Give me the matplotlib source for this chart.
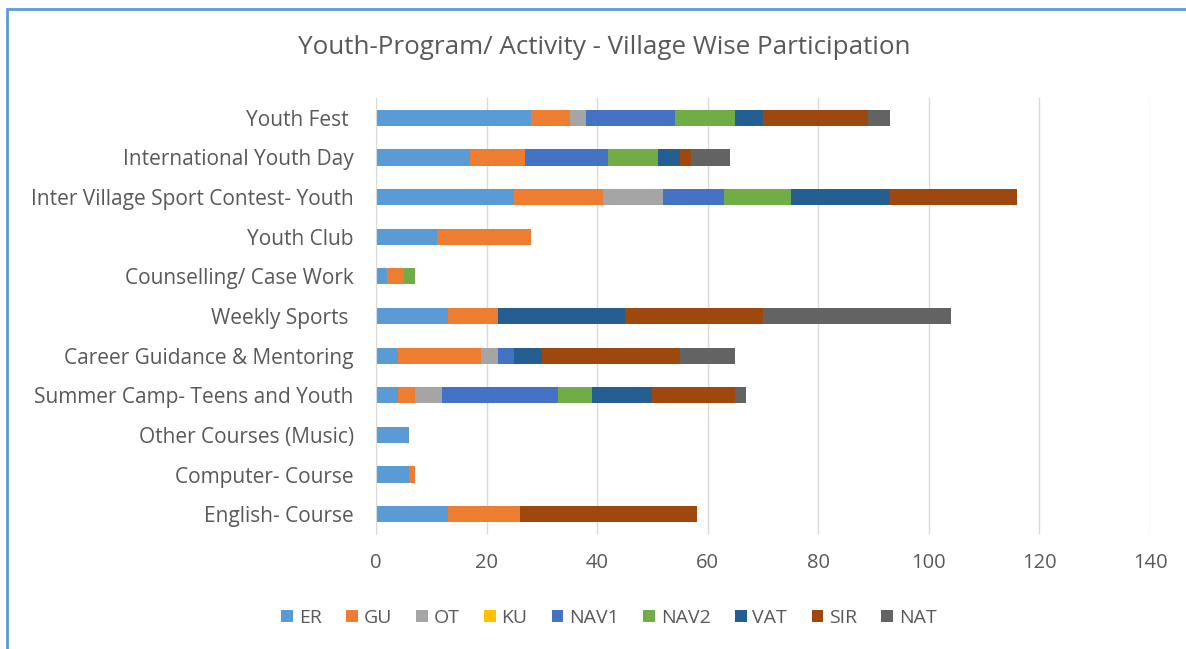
import matplotlib
matplotlib.use("Agg")
import matplotlib.pyplot as plt
from matplotlib.patches import Rectangle
import numpy as np

categories = ["Youth Fest ", "International Youth Day", "Inter Village Sport Contest- Youth",
              "Youth Club", "Counselling/ Case Work", "Weekly Sports ",
              "Career Guidance & Mentoring", "Summer Camp- Teens and Youth",
              "Other Courses (Music)", "Computer- Course", "English- Course"]

series_names = ["ER", "GU", "OT", "KU", "NAV1", "NAV2", "VAT", "SIR", "NAT"]
ER   = [28, 17, 25, 11, 2, 13, 4, 4, 6, 6, 13]
GU   = [7, 10, 16, 17, 3, 9, 15, 3, 0, 1, 13]
OT   = [3, 0, 11, 0, 0, 0, 3, 5, 0, 0, 0]
KU   = [0, 0, 0, 0, 0, 0, 0, 0, 0, 0, 0]
NAV1 = [16, 15, 11, 0, 0, 0, 3, 21, 0, 0, 0]
NAV2 = [11, 9, 12, 0, 2, 0, 0, 6, 0, 0, 0]
VAT  = [5, 4, 18, 0, 0, 23, 5, 11, 0, 0, 0]
SIR  = [19, 2, 23, 0, 0, 25, 25, 15, 0, 0, 32]
NAT  = [4, 7, 0, 0, 0, 34, 10, 2, 0, 0, 0]
series_values = [ER, GU, OT, KU, NAV1, NAV2, VAT, SIR, NAT]
colors = ["#5B9BD5", "#ED7D31", "#A5A5A5", "#FFC000", "#4472C4",
          "#70AD47", "#255E91", "#9E480E", "#636363"]
xticks = [0, 20, 40, 60, 80, 100, 120, 140]

txt = "#595959"
plt.rcParams['font.family'] = ['Open Sans', 'DejaVu Sans']

fig = plt.figure(figsize=(11.86, 6.49), dpi=100)
fig.patch.set_facecolor("white")
ax = fig.add_axes([376/1186, 1-534/649, (1150-376)/1186, (534-98)/649])

y = np.arange(len(categories))[::-1]
left = np.zeros(len(categories))
for name, vals, c in zip(series_names, series_values, colors):
    vals = np.array(vals, dtype=float)
    ax.barh(y, vals, left=left, height=0.41, color=c, label=name, zorder=3)
    left += vals

ax.set_xlim(0, 140)
ax.set_ylim(-0.5, len(categories) - 0.5)
ax.set_xticks(xticks)
ax.set_xticklabels([str(t) for t in xticks])
ax.set_yticks(y)
ax.set_yticklabels(categories)
ax.tick_params(axis='x', length=0, pad=14, labelsize=14.5, labelcolor=txt)
ax.tick_params(axis='y', length=0, pad=16, labelsize=15, labelcolor=txt)
ax.grid(axis='x', color="#D9D9D9", linewidth=1, zorder=0)
for s in ["top", "right", "bottom"]:
    ax.spines[s].set_visible(False)
ax.spines["left"].set_color("#D9D9D9")
ax.spines["left"].set_zorder(4)

fig.text(604/1186, 1-48/649, "Youth-Program/ Activity - Village Wise Participation",
         ha="center", va="center", fontsize=18.7, color=txt)

handles, labels = ax.get_legend_handles_labels()
leg = fig.legend(handles, labels, loc="center", bbox_to_anchor=(609/1186, 1-618/649),
                 ncol=9, frameon=False, fontsize=14, labelcolor=txt,
                 handlelength=0.6, handleheight=0.6, handletextpad=0.3, columnspacing=1.25)

fig.patches.append(Rectangle((7/1186, -0.05), 1.2, 1-9/649+0.05, transform=fig.transFigure,
                             fill=False, edgecolor="#5B9BD5", linewidth=2))

fig.savefig("out.png", dpi=100)
